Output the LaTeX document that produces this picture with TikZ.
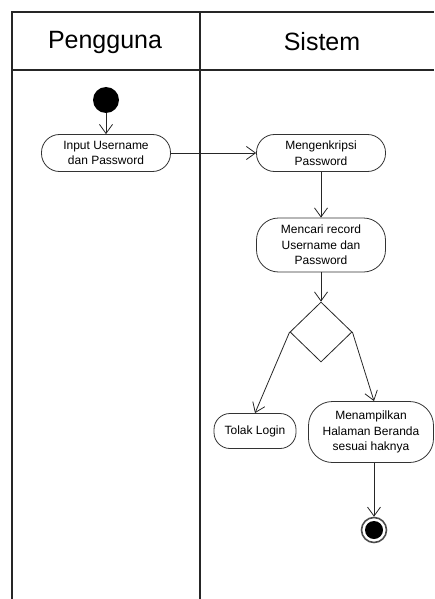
\documentclass[tikz,border=0pt]{standalone}
\usepackage{fontspec}
\setmainfont{Liberation Sans}
\usetikzlibrary{arrows.meta,shapes.geometric}
\begin{document}
\begin{tikzpicture}[x=1pt,y=-1pt,
  frame/.style={line width=1.1pt,draw=black!85},
  act/.style={draw=black!80,line width=0.8pt,rounded corners=18pt,align=center,inner sep=0pt,font=\fontsize{12}{15.5}\selectfont},
  flow/.style={line width=0.8pt,draw=black!85,-{Straight Barb[length=9pt,width=13pt,line width=0.8pt]}},
  title/.style={font=\fontsize{25}{30}\selectfont}
]
\useasboundingbox (0,0) rectangle (434,599);
% swimlane frame
\draw[frame] (12,599) -- (12,12) -- (434,12);
\draw[frame] (12,70) -- (434,70);
\draw[frame] (200,12) -- (200,599);
\node[title] (tp) at (105,42) {Pengguna};
\node[title] (ts) at (322,42) {Sistem};
% nodes
\node[circle,fill=black,minimum size=26pt,inner sep=0pt] (start) at (106,100) {};
\node[act,minimum width=129pt,minimum height=37pt] (input) at (106,153) {Input Username\\dan Password};
\node[act,minimum width=129pt,minimum height=37pt] (enk) at (321,153) {Mengenkripsi\\Password};
\node[act,minimum width=129pt,minimum height=54pt,rounded corners=22pt] (cari) at (321,245) {Mencari record\\Username dan\\Password};
\node[diamond,draw=black!85,line width=0.8pt,minimum width=62pt,minimum height=60pt,inner sep=0pt] (dec) at (321,332) {};
\node[act,minimum width=82pt,minimum height=35pt,rounded corners=16pt] (tolak) at (255,431) {Tolak Login};
\node[act,minimum width=125pt,minimum height=61pt,rounded corners=24pt] (tampil) at (371,432) {Menampilkan\\Halaman Beranda\\sesuai haknya};
\node[circle,draw=black!70,line width=1.6pt,minimum size=25pt,inner sep=0pt] (end) at (374,530) {};
\node[circle,fill=black,minimum size=18pt,inner sep=0pt] (endin) at (end) {};
% connectors
\draw[flow] (start) -- (input);
\draw[flow] (input) -- (enk);
\draw[flow] (enk) -- (cari);
\draw[flow] (cari) -- (dec.north);
\draw[flow] (dec.west) -- (tolak.north);
\draw[flow] (dec.east) -- (tampil.north -| end);
\draw[flow] (tampil.south -| end) -- (end.north);
\end{tikzpicture}
\end{document}
